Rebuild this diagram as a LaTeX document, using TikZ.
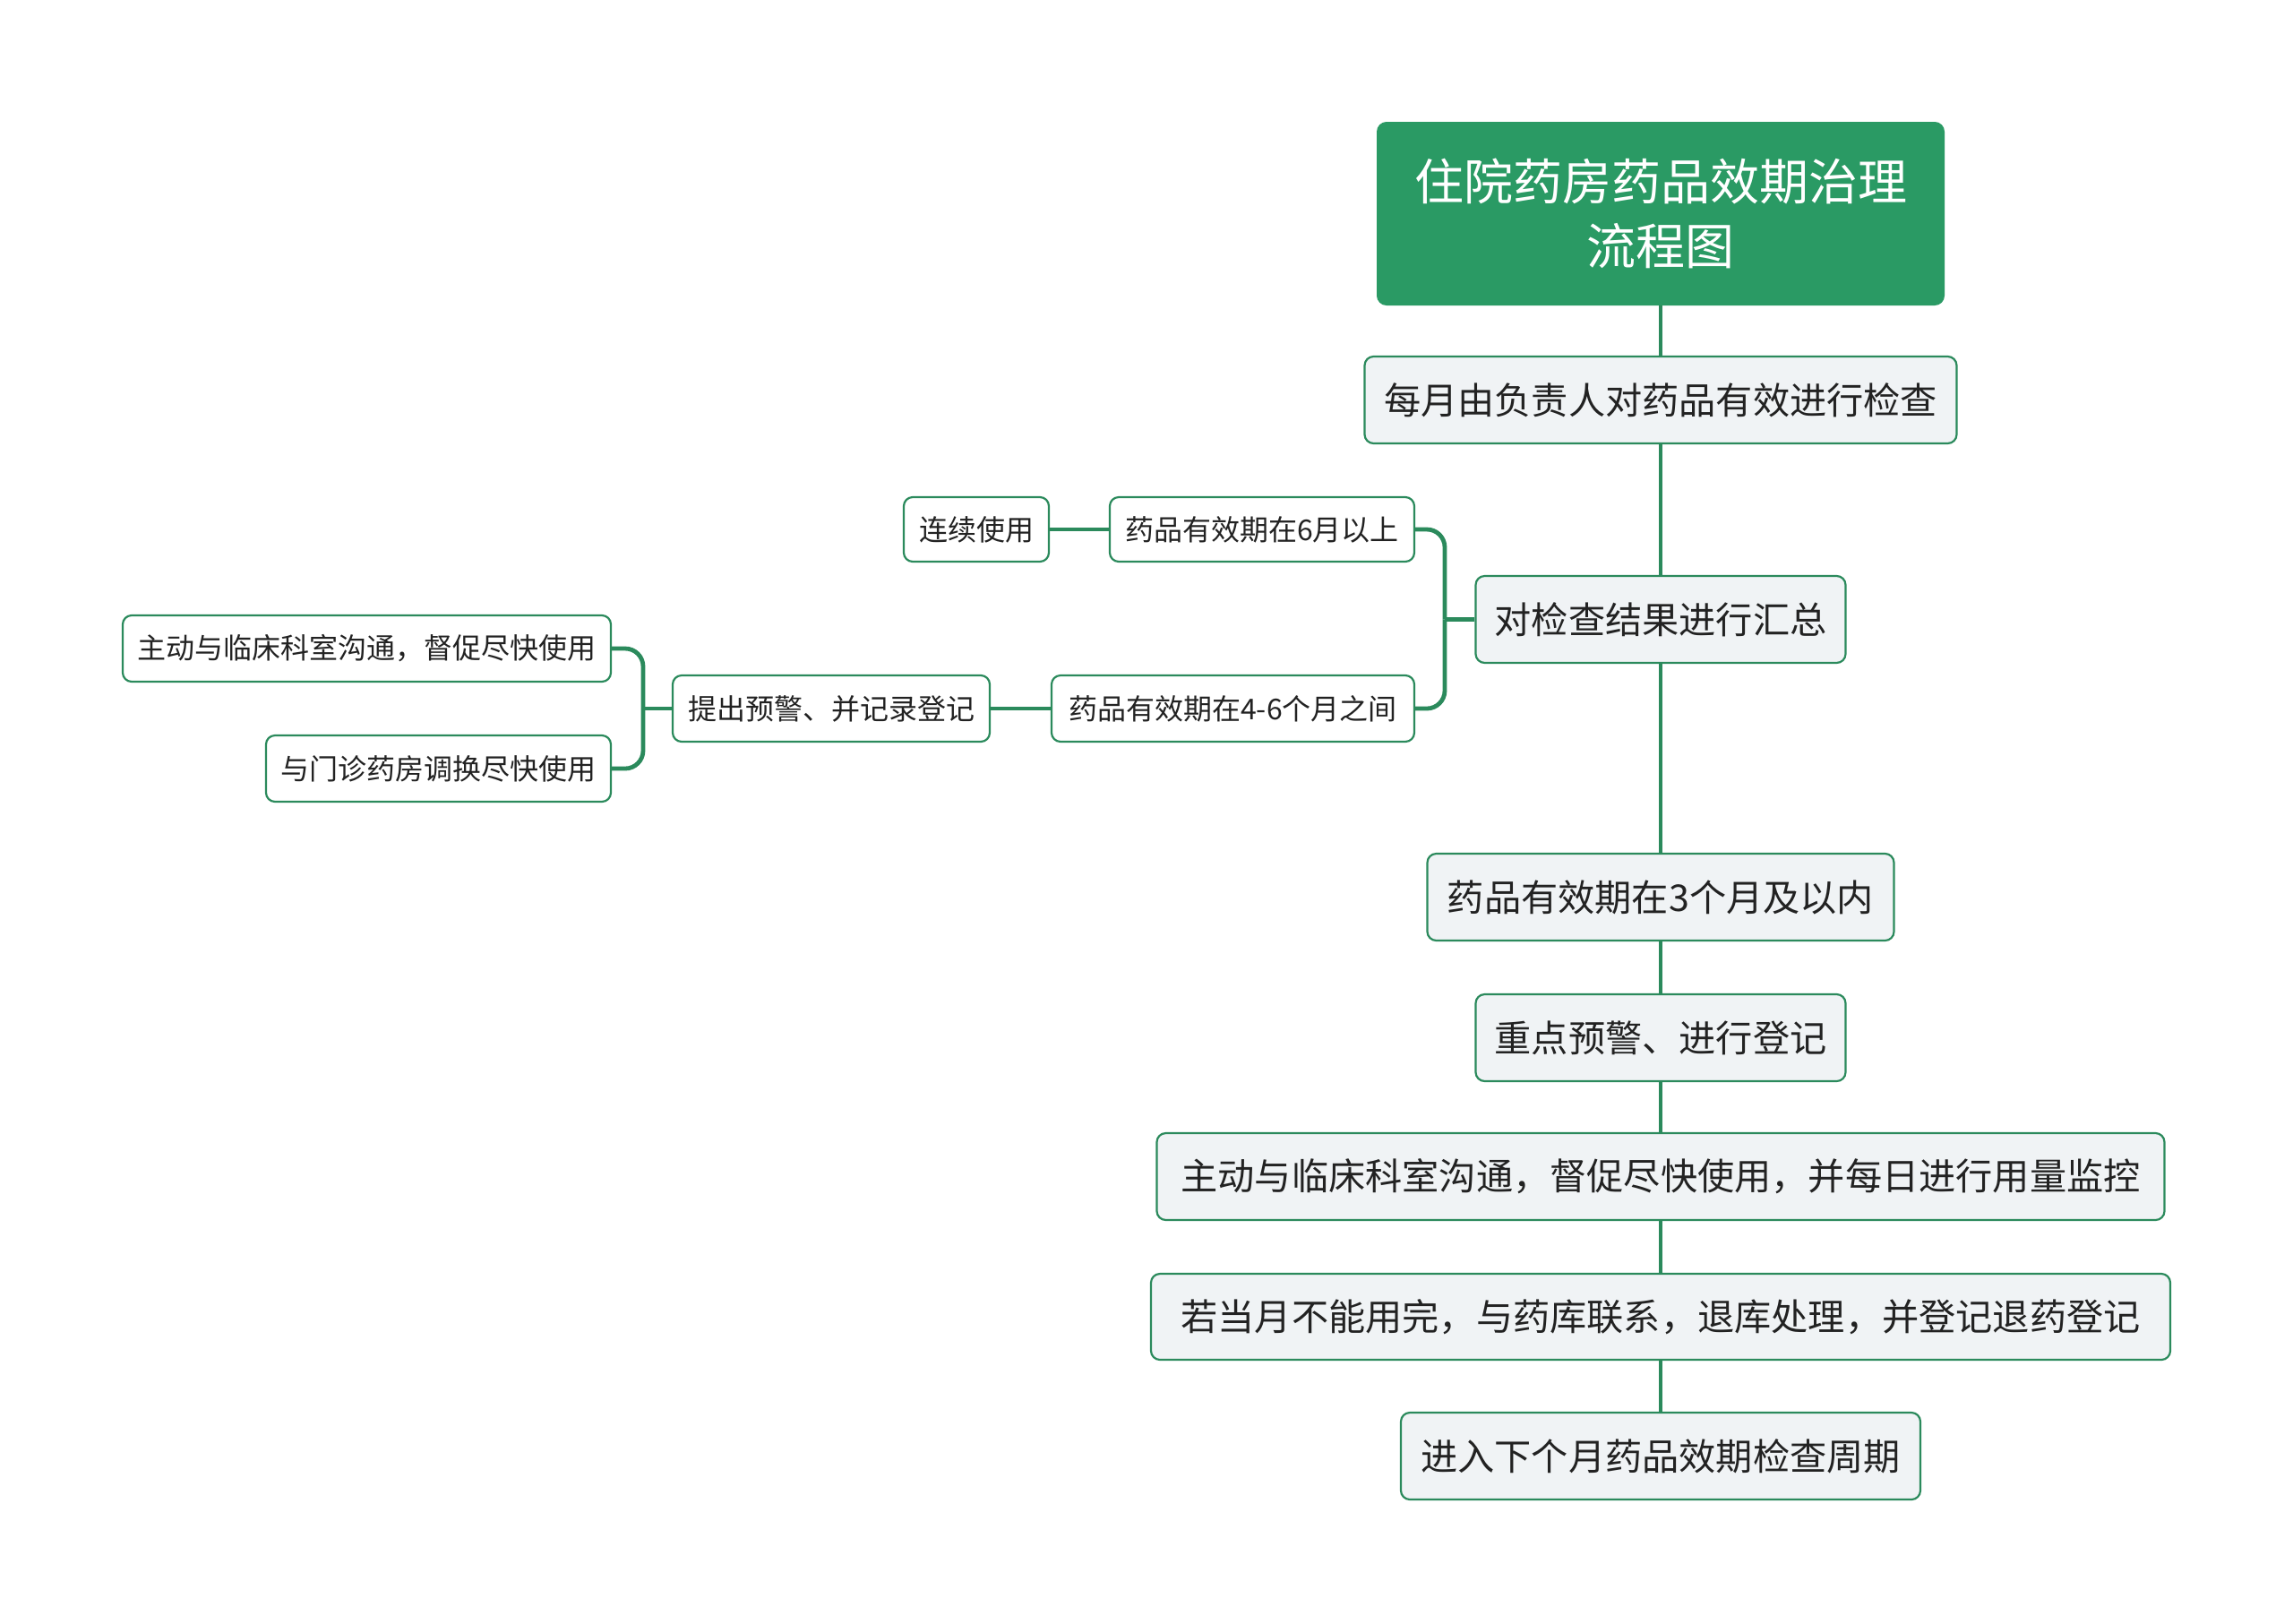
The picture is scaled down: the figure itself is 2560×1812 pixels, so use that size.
\documentclass[tikz,border=0pt]{standalone}
\usepackage{fontspec}
\setmainfont{Noto Sans CJK SC}
\definecolor{tgreen}{HTML}{2A9A64}
\definecolor{bgreen}{HTML}{2B8A5C}
\definecolor{nfill}{HTML}{F0F3F5}
\definecolor{txt}{HTML}{222222}
\tikzset{
  base/.style={draw=bgreen, line width=1.1pt, rounded corners=5pt, inner sep=0pt, align=center, text=txt},
  titlebox/.style={fill=tgreen, draw=tgreen, line width=1pt, rounded corners=5pt, inner sep=0pt, align=center, text=white,
    font=\fontsize{27.5}{36}\selectfont, minimum width=316pt, minimum height=101.5pt},
  mainbox/.style={base, fill=nfill, font=\fontsize{20.6}{24}\selectfont, minimum height=48.5pt},
  subbox/.style={base, fill=white, font=\fontsize{16}{19}\selectfont, minimum height=37pt},
  conn/.style={draw=bgreen, line width=2.4pt, rounded corners=10pt},
}
\begin{document}
\begin{tikzpicture}[x=0.5pt,y=-0.5pt]
\useasboundingbox (0,0) rectangle (2560,1812);
\node[titlebox] (title) at (1854,238.5) {住院药房药品效期治理\\流程图};
\node[mainbox, minimum width=330.5pt] (n1) at (1854,446.5) {每月由负责人对药品有效进行检查};
\node[mainbox, minimum width=206.5pt] (n2) at (1854,691.5) {对检查结果进行汇总};
\node[subbox, minimum width=170pt, minimum height=36pt] (n6m) at (1409,591) {药品有效期在6月以上};
\node[subbox, minimum width=81pt, minimum height=36pt] (nlx) at (1090,591) {连续使用};
\node[subbox, minimum width=202.5pt] (n46) at (1376.5,791) {药品有效期在4-6个月之间};
\node[subbox, minimum width=177pt] (nwarn) at (928,791) {提出预警、并记录登记};
\node[subbox, minimum width=272.5pt] (nl1) at (409.5,724) {主动与临床科室沟通，督促尽快使用};
\node[subbox, minimum width=192.5pt] (nl2) at (489.5,858) {与门诊药房调换尽快使用};
\node[mainbox, minimum width=260.5pt] (n3m) at (1854,1001.5) {药品有效期在3个月及以内};
\node[mainbox, minimum width=206.5pt] (n4) at (1854,1158.5) {重点预警、进行登记};
\node[mainbox, minimum width=562.5pt] (n5) at (1854,1313.5) {主动与临床科室沟通，督促尽快使用，并每日进行用量监控};
\node[mainbox, minimum width=569pt, minimum height=48pt] (n6) at (1854,1470) {若当月不能用完，与药库联系，退库处理，并登记退药登记};
\node[mainbox, minimum width=290pt] (n7) at (1854,1625.5) {进入下个月药品效期检查周期};
% trunk
\draw[conn] (title.south) -- (n1.north);
\draw[conn] (n1.south) -- (n2.north);
\draw[conn] (n2.south) -- (n3m.north);
\draw[conn] (n3m.south) -- (n4.north);
\draw[conn] (n4.south) -- (n5.north);
\draw[conn] (n5.south) -- (n6.north);
\draw[conn] (n6.south) -- (n7.north);
% left branches
\coordinate (b1) at (1613,691.5);
\draw[conn] (n2.west) -- (b1);
\draw[conn] (n6m.east) -| (b1);
\draw[conn] (n46.east) -| (b1);
\draw[conn] (n6m.west) -- (nlx.east);
\draw[conn] (n46.west) -- (nwarn.east);
\coordinate (b2) at (718,791);
\draw[conn] (nwarn.west) -- (b2);
\draw[conn] (nl1.east) -| (b2);
\draw[conn] (nl2.east) -| (b2);
\end{tikzpicture}
\end{document}
